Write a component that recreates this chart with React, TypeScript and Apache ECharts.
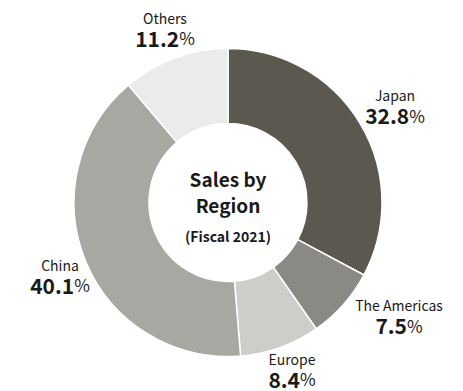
import React, { useEffect, useRef } from "react";
import * as echarts from "echarts";

const regions = ["Japan", "The Americas", "Europe", "China", "Others"];
const shares = [32.8, 7.5, 8.4, 40.1, 11.2];
const colors = ["#5a584f", "#8b8984", "#cdcdc9", "#a8a7a2", "#ebebe9"];
const centerLines = ["Sales by", "Region"];
const centerSub = "(Fiscal 2021)";

// label block centres (layout only)
const LABEL_POS: Record<string, [number, number]> = {
  Japan: [395, 107],
  "The Americas": [399, 317],
  Europe: [292, 370.5],
  China: [60, 276.5],
  Others: [165, 29.5],
};

const FONT = '"Noto Sans CJK JP", "Noto Sans", sans-serif';
const CX = 228;
const CY = 202.5;

export default function App() {
  const ref = useRef<HTMLDivElement>(null);
  useEffect(() => {
    if (!ref.current) return;
    const chart = echarts.init(ref.current, null, { renderer: "svg" });
    chart.setOption({
      animation: false,
      backgroundColor: "#ffffff",
      textStyle: { fontFamily: FONT },
      series: [
        {
          type: "pie",
          center: [CX, CY],
          radius: [79, 154],
          startAngle: 90,
          clockwise: true,
          avoidLabelOverlap: false,
          itemStyle: { borderColor: "#ffffff", borderWidth: 1.5 },
          labelLine: { show: false },
          label: {
            show: true,
            position: "outside",
            formatter: (p: any) => `{n|${p.name}}\n{v|${p.value.toFixed(1)}}{p|%}`,
            rich: {
              n: { fontFamily: FONT, fontSize: 14, color: "#1a1a1a", lineHeight: 16, align: "center" },
              v: { fontFamily: FONT, fontSize: 21, fontWeight: "bold", color: "#1a1a1a", lineHeight: 24 },
              p: { fontFamily: FONT, fontSize: 17, color: "#1a1a1a", lineHeight: 24 },
            },
          },
          labelLayout: (params: any) => {
            const name = regions[params.dataIndex];
            const pos = LABEL_POS[name];
            return {
              x: pos[0],
              y: pos[1],
              align: "center",
              verticalAlign: "middle",
            };
          },
          emphasis: { disabled: true },
          data: regions.map((r, i) => ({
            name: r,
            value: shares[i],
            itemStyle: { color: colors[i] },
          })),
        },
      ],
      graphic: [
        {
          type: "text",
          x: CX,
          y: 178,
          style: {
            text: centerLines[0],
            fontFamily: FONT,
            fontSize: 19,
            fontWeight: "bold",
            fill: "#1a1a1a",
            align: "center",
            verticalAlign: "middle",
          },
        },
        {
          type: "text",
          x: CX,
          y: 204,
          style: {
            text: centerLines[1],
            fontFamily: FONT,
            fontSize: 19,
            fontWeight: "bold",
            fill: "#1a1a1a",
            align: "center",
            verticalAlign: "middle",
          },
        },
        {
          type: "text",
          x: CX,
          y: 235.5,
          style: {
            text: centerSub,
            fontFamily: FONT,
            fontSize: 14,
            fontWeight: "bold",
            fill: "#1a1a1a",
            align: "center",
            verticalAlign: "middle",
          },
        },
      ],
    });
    return () => chart.dispose();
  }, []);
  return (
    <div
      ref={ref}
      style={{ position: "fixed", left: 0, top: 0, width: 463, height: 391 }}
    />
  );
}
